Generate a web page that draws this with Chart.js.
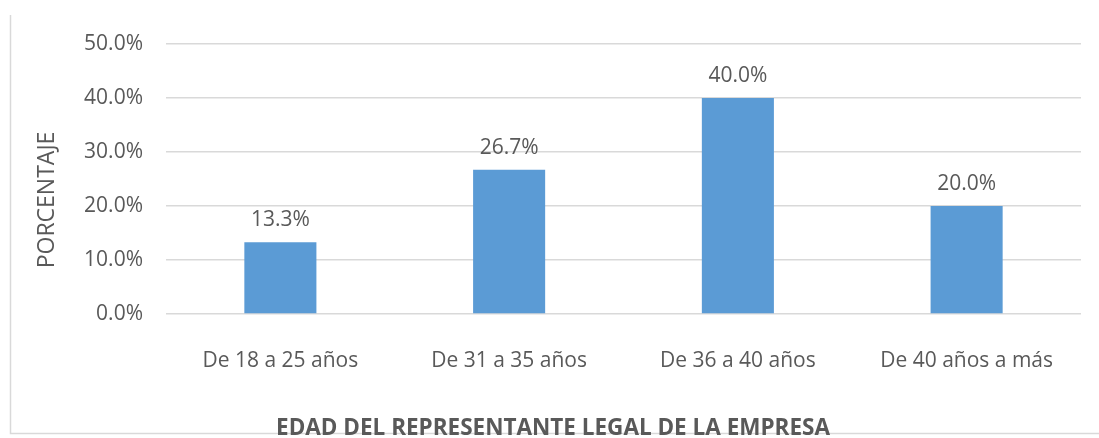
<!DOCTYPE html>
<html lang="es">
<head>
<meta charset="utf-8">
<title>Edad del representante legal</title>
<script src="https://cdn.jsdelivr.net/npm/chart.js@4.4.1/dist/chart.umd.min.js"></script>
<style>
    html, body { margin: 0; padding: 0; background: #ffffff; }
    #contenedor { width: 1099px; height: 438px; position: relative; }
</style>
</head>
<body>
<div id="contenedor">
    <canvas id="graficoEdad"></canvas>
</div>
<script>
// Datos del gráfico
const categorias = ["De 18 a 25 años", "De 31 a 35 años", "De 36 a 40 años", "De 40 años a más"];
const porcentajes = [13.3, 26.7, 40.0, 20.0];
const ejeY = { min: 0, max: 50, paso: 10 };
const tituloX = "EDAD DEL REPRESENTANTE LEGAL DE LA EMPRESA";
const tituloY = "PORCENTAJE";

const colorTexto = "#595959";
const colorGrilla = "#D9D9D9";
const fuente = "'Open Sans', 'Noto Sans', sans-serif";

// Marco del área del gráfico (como en Excel) y títulos de los ejes
const marco = {
    id: "marco",
    beforeDraw(chart) {
        const ctx = chart.ctx;
        ctx.save();
        ctx.strokeStyle = colorGrilla;
        ctx.lineWidth = 1.5;
        ctx.beginPath();
        ctx.moveTo(10.5, 15);
        ctx.lineTo(10.5, 433.5);
        ctx.lineTo(1099, 433.5);
        ctx.stroke();

        ctx.fillStyle = colorTexto;
        ctx.textAlign = "center";
        ctx.textBaseline = "alphabetic";

        // título del eje X, centrado en todo el marco
        ctx.font = "bold 22.5px " + fuente;
        ctx.fillText(tituloX, 553, 435);

        // título del eje Y, vertical
        ctx.translate(54, 200);
        ctx.rotate(-Math.PI / 2);
        ctx.font = "23px " + fuente;
        ctx.fillText(tituloY, 0, 0);
        ctx.restore();
    }
};

// Etiquetas de valor encima de cada barra
const etiquetas = {
    id: "etiquetas",
    afterDatasetsDraw(chart) {
        const ctx = chart.ctx;
        const meta = chart.getDatasetMeta(0);
        ctx.save();
        ctx.fillStyle = colorTexto;
        ctx.font = "21px " + fuente;
        ctx.textAlign = "center";
        ctx.textBaseline = "alphabetic";
        meta.data.forEach(function(barra, i) {
            ctx.fillText(porcentajes[i].toFixed(1) + "%", barra.x, barra.y - 16);
        });
        ctx.restore();
    }
};

const ctx = document.getElementById("graficoEdad").getContext("2d");
const grafico = new Chart(ctx, {
    type: "bar",
    data: {
        labels: categorias,
        datasets: [{
            label: "Porcentaje",
            data: porcentajes,
            backgroundColor: "#5B9BD5",
            categoryPercentage: 1,
            barPercentage: 0.315
        }]
    },
    options: {
        responsive: true,
        maintainAspectRatio: false,
        animation: false,
        layout: { padding: { left: 0, right: 18, top: 44, bottom: 0 } },
        plugins: {
            legend: { display: false },
            tooltip: { enabled: false }
        },
        scales: {
            x: {
                grid: { display: false, drawTicks: false },
                border: { display: false },
                ticks: {
                    color: colorTexto,
                    font: { family: fuente, size: 21 },
                    padding: 34,
                    maxRotation: 0
                },
                afterFit(scale) { scale.height = 124; }
            },
            y: {
                min: ejeY.min,
                max: ejeY.max,
                grid: { color: colorGrilla, lineWidth: 1.5, drawTicks: false },
                border: { display: false },
                ticks: {
                    stepSize: ejeY.paso,
                    color: colorTexto,
                    font: { family: fuente, size: 21 },
                    padding: 23,
                    callback: function(valor) { return valor.toFixed(1) + "%"; }
                },
                afterFit(scale) { scale.width = 166; }
            }
        }
    },
    plugins: [marco, etiquetas]
});
</script>
</body>
</html>
